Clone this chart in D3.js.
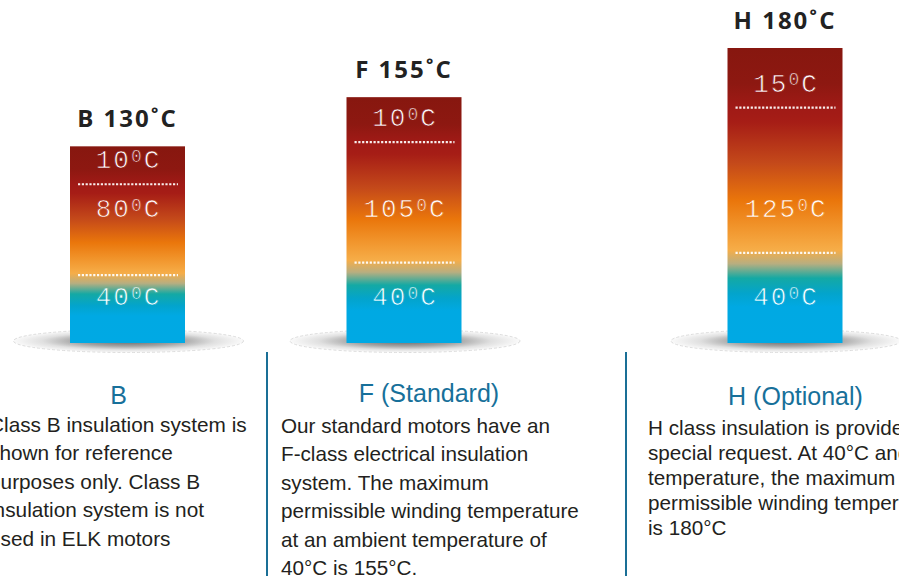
<!DOCTYPE html>
<html>
<head>
<meta charset="utf-8">
<script src="https://cdn.jsdelivr.net/npm/d3@7"></script>
<style>
  body { margin: 0; background: #fff; }
  svg { display: block; }
  .title { font-family: "Open Sans", sans-serif; font-weight: 700; fill: #222; }
  .segLabel { font-family: "Liberation Mono", monospace; fill: #fff; }
  .heading { font-family: "Liberation Sans", Arial, sans-serif; fill: #17709a; }
  .body { font-family: "Liberation Sans", Arial, sans-serif; fill: #231f20; }
</style>
</head>
<body>
<div id="chart"></div>
<script>
// insulation classes and their temperature build-up (bottom to top)
var classes = ["B", "F", "H"];
var ambient = [40, 40, 40];
var rise = [80, 105, 125];
var hotspot = [10, 10, 15];
var maxTemp = [130, 155, 180];

var headings = ["B", "F (Standard)", "H (Optional)"];
var descB = ["Class B insulation system is", "shown for reference", "purposes only. Class B",
  "insulation system is not", "used in ELK motors"];
var descF = ["Our standard motors have an", "F-class electrical insulation", "system. The maximum",
  "permissible winding temperature", "at an ambient temperature of", "40°C is 155°C."];
var descH = ["H class insulation is provided on", "special request. At 40°C and ambient",
  "temperature, the maximum", "permissible winding temperature", "is 180°C"];
var descriptions = [descB, descF, descH];

var width = 899;
var height = 576;

var svg = d3.select("#chart").append("svg")
  .attr("width", width)
  .attr("height", height);

var defs = svg.append("defs");

// bar placement
var xCenter = d3.scaleOrdinal().domain(classes).range([127.5, 404, 785]);
var barW = 115;
var baseY = 343;

// bar top from the max temperature
var yTop = d3.scaleLinear().domain([30, 180]).range([baseY, 48]);
// segments are drawn with a compressed weight so small bands stay readable
var weight = d3.scalePow().exponent(0.42).domain([0, 1]).range([0, 1]);

// shadow gradient
var sh = defs.append("radialGradient").attr("id", "shadow");
sh.append("stop").attr("offset", 0).attr("stop-color", "#666");
sh.append("stop").attr("offset", 0.45).attr("stop-color", "#a4a4a4");
sh.append("stop").attr("offset", 0.75).attr("stop-color", "#e0e0e0");
sh.append("stop").attr("offset", 1).attr("stop-color", "#fafafa");

classes.forEach(function(c, i) {
  var cx = xCenter(c);
  var x0 = cx - barW / 2;
  var top = yTop(maxTemp[i]);

  var segs = [ambient[i], rise[i], hotspot[i]];
  var w = segs.map(weight);
  var cum = d3.cumsum(w);
  var yIn = d3.scaleLinear().domain([0, cum[2]]).range([baseY, top]);

  var b2 = yIn(cum[0]); // ambient / rise boundary
  var b1 = yIn(cum[1]); // rise / hotspot boundary
  var f1 = (b1 - top) / (baseY - top);
  var f2 = (b2 - top) / (baseY - top);

  // gradient tied to the segment boundaries
  var g = defs.append("linearGradient")
    .attr("id", "grad" + c)
    .attr("gradientUnits", "userSpaceOnUse")
    .attr("x1", 0).attr("x2", 0)
    .attr("y1", top).attr("y2", baseY);
  var mid = f2 - f1;
  var low = 1 - f2;
  var stops = [
    [0, "#87170f"],
    [f1 * 0.6, "#8d1811"],
    [f1, "#a01a16"],
    [f1 + mid * 0.1, "#a61d16"],
    [f1 + mid * 0.38, "#c4491a"],
    [f1 + mid * 0.64, "#ea760b"],
    [f1 + mid * 0.82, "#f1942b"],
    [f2 - 0.01, "#f6ad48"],
    [f2 + low * 0.12, "#b8ae80"],
    [f2 + low * 0.28, "#14a9a4"],
    [f2 + low * 0.45, "#03a4cc"],
    [f2 + low * 0.6, "#00a9e3"],
    [1, "#00a9e4"]
  ];
  stops.forEach(function(s) {
    g.append("stop").attr("offset", s[0]).attr("stop-color", s[1]);
  });

  // shadow under the bar
  svg.append("ellipse")
    .attr("cx", cx + 1)
    .attr("cy", baseY - 2)
    .attr("rx", 115)
    .attr("ry", 11.5)
    .attr("fill", "url(#shadow)")
    .attr("stroke", "#d4d4d4")
    .attr("stroke-width", 0.8)
    .attr("stroke-dasharray", "3 2");

  // the bar
  svg.append("rect")
    .attr("x", x0)
    .attr("y", top)
    .attr("width", barW)
    .attr("height", baseY - top)
    .attr("fill", "url(#grad" + c + ")");

  // dotted boundaries
  [b1, b2].forEach(function(by) {
    svg.append("line")
      .attr("x1", x0 + 8).attr("x2", x0 + barW - 7)
      .attr("y1", by).attr("y2", by)
      .attr("stroke", "#fff")
      .attr("stroke-opacity", 0.92)
      .attr("stroke-width", 2.2)
      .attr("stroke-dasharray", "2.2 1.6");
  });

  // segment labels: hotspot, rise, ambient
  var labelY = [b1 - 25, baseY - 135, baseY - 47];
  var labelVal = [hotspot[i], rise[i], ambient[i]];
  labelVal.forEach(function(v, k) {
    var t = svg.append("text")
      .attr("class", "segLabel")
      .attr("x", cx + 1)
      .attr("y", labelY[k] + 9)
      .attr("text-anchor", "middle")
      .attr("font-size", 26)
      .attr("letter-spacing", 2)
      .attr("stroke", "url(#grad" + c + ")")
      .attr("stroke-width", 0.7);
    t.append("tspan").text(v);
    t.append("tspan").attr("font-size", 18).attr("dy", -6.5).text("0");
    t.append("tspan").attr("dy", 6.5).text("C");
  });

  // class title above the bar
  svg.append("text")
    .attr("class", "title")
    .attr("x", cx)
    .attr("y", top - 19)
    .attr("text-anchor", "middle")
    .attr("font-size", 24)
    .attr("letter-spacing", 2)
    .text(c + " " + maxTemp[i] + "˚C");
});

// separators between the text columns
[267, 626].forEach(function(sx) {
  svg.append("line")
    .attr("x1", sx).attr("x2", sx)
    .attr("y1", 352).attr("y2", height)
    .attr("stroke", "#1a6f96")
    .attr("stroke-width", 2);
});

// headings and descriptions
var headX = [118.5, 429, 795.5];
var headY = [404, 402, 405];
var textX = [-11, 281, 648];
var textY = [432, 433, 435];
var lineH = [28.4, 28.4, 25];
var textSize = [20.8, 20.7, 20.7];

headings.forEach(function(h, i) {
  svg.append("text")
    .attr("class", "heading")
    .attr("x", headX[i])
    .attr("y", headY[i])
    .attr("text-anchor", "middle")
    .attr("font-size", 25)
    .text(h);

  var body = svg.append("text")
    .attr("class", "body")
    .attr("font-size", textSize[i]);
  descriptions[i].forEach(function(line, k) {
    body.append("tspan")
      .attr("x", textX[i])
      .attr("y", textY[i] + k * lineH[i])
      .text(line);
  });
});
</script>
</body>
</html>
